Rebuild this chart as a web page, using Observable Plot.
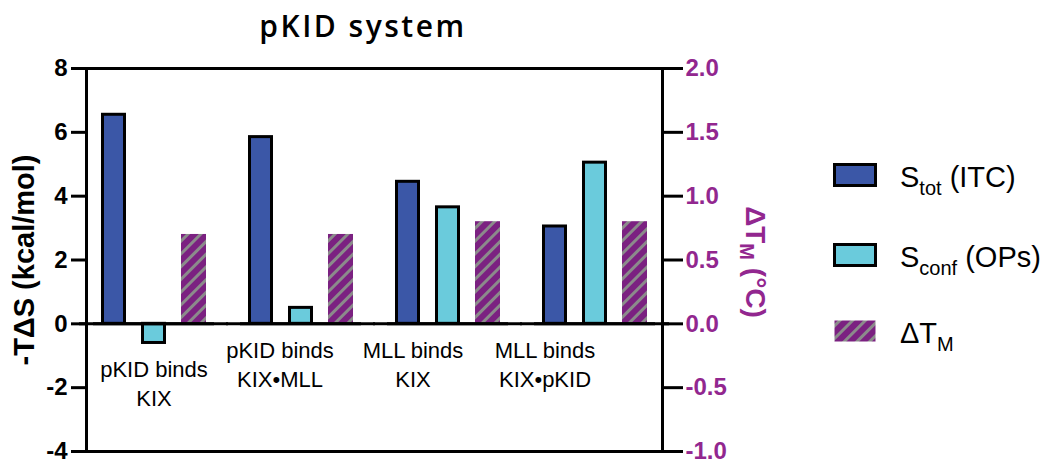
<!DOCTYPE html>
<html><head><meta charset="utf-8">
<script src="https://cdn.jsdelivr.net/npm/d3@7"></script>
<script src="https://cdn.jsdelivr.net/npm/@observablehq/plot@0.6"></script>
<style>
body{margin:0;background:#fff;}
#wrap{position:relative;width:1054px;height:463px;overflow:hidden;font-family:"Liberation Sans",Arial,sans-serif;}
#plot{position:absolute;left:0;top:0;}
#overlay{position:absolute;left:0;top:0;pointer-events:none;}
</style></head><body>
<div id="wrap"><div id="plot"></div>
<svg id="overlay" width="1054" height="463" xmlns="http://www.w3.org/2000/svg"></svg></div>
<script>
// ---- data ----
const groups = ["pKID binds\nKIX", "pKID binds\nKIX•MLL", "MLL binds\nKIX", "MLL binds\nKIX•pKID"];
const series = ["Stot", "Sconf", "dTM"];
const sTot = [6.55, 5.85, 4.45, 3.05];      // -TΔS kcal/mol
const sConf = [-0.6, 0.5, 3.65, 5.05];      // -TΔS kcal/mol
const deltaTM = [0.7, 0.7, 0.8, 0.8];       // °C (right axis)
const leftTicks = [-4, -2, 0, 2, 4, 6, 8];
const rightTicks = [-1.0, -0.5, 0.0, 0.5, 1.0, 1.5, 2.0];
const yDomain = [-4, 8];
const tmFactor = 4; // right axis 2.0 aligns with left axis 8

const blue = "#3B57A7", cyan = "#6ACBDC", purple = "#7B2181", gray = "#8B8B8B", axisPurple = "#92278F";

const rows = groups.flatMap((g, i) => [
  {group: g, series: "Stot", value: sTot[i]},
  {group: g, series: "Sconf", value: sConf[i]},
  {group: g, series: "dTM", value: deltaTM[i] * tmFactor}
]);
const labelRows = groups.map((g, i) => ({group: g, y: Math.min(0, sTot[i], sConf[i])}));
const labelShift = [0, -21, -35, -50];

const font = "Liberation Sans, Arial, sans-serif";

const svg = Plot.plot({
  width: 1054, height: 463,
  marginLeft: 86, marginRight: 392, marginTop: 68, marginBottom: 12,
  style: {fontFamily: font, background: "transparent", color: "black"},
  fx: {domain: groups, paddingInner: 12 / 147, paddingOuter: 0, axis: null, label: null},
  x: {domain: series, paddingInner: 0.375, paddingOuter: 0.359, axis: null, label: null},
  y: {domain: yDomain, label: null},
  marks: [
    Plot.barY(rows.filter(d => d.series === "Stot"), {fx: "group", x: "series", y: "value", fill: blue, stroke: "black", strokeWidth: 3, insetLeft: 1.5, insetRight: 1.5}),
    Plot.barY(rows.filter(d => d.series === "Sconf"), {fx: "group", x: "series", y: "value", fill: cyan, stroke: "black", strokeWidth: 3, insetLeft: 1.5, insetRight: 1.5}),
    Plot.barY(rows.filter(d => d.series === "dTM"), {fx: "group", x: "series", y: "value", fill: "url(#hatch)"}),
    Plot.frame({facet: "super", stroke: "black", strokeWidth: 3}),
    Plot.ruleY([0], {stroke: "black", strokeWidth: 3, dx: -7}),
    Plot.ruleY([0], {stroke: "black", strokeWidth: 3, dx: 7}),
    Plot.axisY({anchor: "left", ticks: leftTicks, tickFormat: d => String(d), tickSize: 15, tickPadding: 4,
      fontSize: 24, fontWeight: "bold", fill: "black", stroke: "black", strokeWidth: 3, label: null}),
    Plot.axisY({anchor: "right", ticks: rightTicks.map(t => t * tmFactor), tickFormat: d => (d / tmFactor).toFixed(1),
      tickSize: 20, tickPadding: 3, fontSize: 24, fontWeight: "bold", fill: axisPurple, stroke: "black", strokeWidth: 3, label: null}),
    ...labelRows.map((r, i) => Plot.text([r], {fx: "group", y: "y", text: "group", lineAnchor: "top", dy: 13, dx: labelShift[i],
      fontSize: 22, lineHeight: 1.33, fill: "black", fontFamily: font}))
  ]
});

const defs = d3.select(svg).insert("defs", ":first-child");
const pat = defs.append("pattern").attr("id", "hatch").attr("patternUnits", "userSpaceOnUse")
  .attr("width", 9).attr("height", 9).attr("patternTransform", "rotate(45)");
pat.append("rect").attr("width", 9).attr("height", 9).attr("fill", purple);
pat.append("rect").attr("width", 3).attr("height", 9).attr("fill", gray);

document.getElementById("plot").appendChild(svg);

// ---- overlay: title, axis titles, legend ----
const ov = d3.select("#overlay");
const od = ov.append("defs").append("pattern").attr("id", "hatchLegend").attr("patternUnits", "userSpaceOnUse")
  .attr("width", 9).attr("height", 9).attr("patternTransform", "rotate(45)");
od.append("rect").attr("width", 9).attr("height", 9).attr("fill", purple);
od.append("rect").attr("width", 3).attr("height", 9).attr("fill", gray);

ov.append("text").attr("x", 363).attr("y", 37).attr("text-anchor", "middle")
  .attr("font-family", "'Open Sans', Lato, sans-serif").attr("font-weight", 600).attr("font-size", 30)
  .attr("letter-spacing", 2.5).text("pKID system");

ov.append("text").attr("transform", "translate(34,260) rotate(-90)").attr("text-anchor", "middle")
  .attr("font-family", font).attr("font-weight", "bold").attr("font-size", 29).text("-TΔS (kcal/mol)");

const rt = ov.append("text").attr("transform", "translate(746,262) rotate(90)").attr("text-anchor", "middle")
  .attr("font-family", font).attr("font-weight", "bold").attr("font-size", 28).attr("fill", axisPurple);
rt.append("tspan").text("ΔT");
rt.append("tspan").attr("font-size", 20).attr("dy", 6).text("M");
rt.append("tspan").attr("dy", -6).text(" (°C)");

const legendItems = [
  {main: "S", sub: "tot", rest: " (ITC)", fill: blue, stroke: true, y: 175},
  {main: "S", sub: "conf", rest: " (OPs)", fill: cyan, stroke: true, y: 255},
  {main: "ΔT", sub: "M", rest: "", fill: "url(#hatchLegend)", stroke: false, y: 331}
];
legendItems.forEach(it => {
  const r = ov.append("rect").attr("x", 834.5).attr("y", it.y - 10.5).attr("width", 41).attr("height", 21).attr("fill", it.fill);
  if (it.stroke) r.attr("stroke", "black").attr("stroke-width", 3);
  const t = ov.append("text").attr("x", 900).attr("y", it.y + 11.5).attr("font-family", font).attr("font-size", 29);
  t.append("tspan").text(it.main);
  t.append("tspan").attr("font-size", 20).attr("dy", 8).text(it.sub);
  if (it.rest) t.append("tspan").attr("dy", -8).text(it.rest);
});
</script></body></html>
